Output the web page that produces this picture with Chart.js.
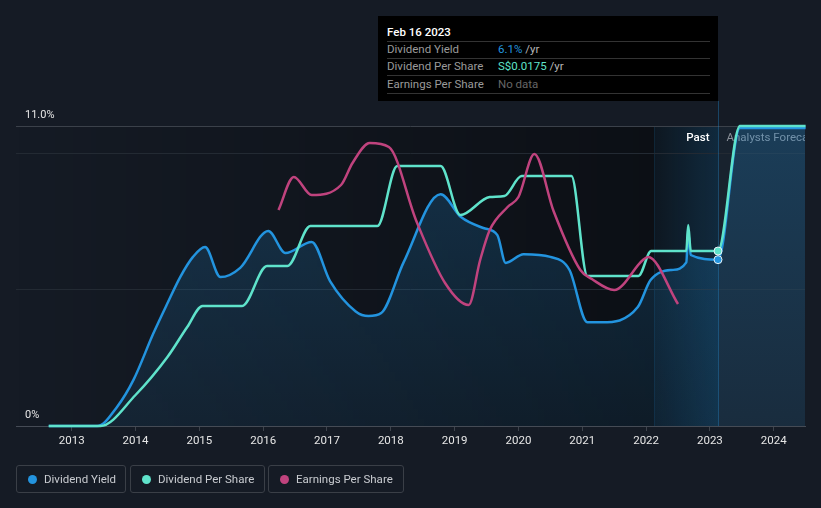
<!DOCTYPE html>
<html>
<head>
<meta charset="utf-8">
<script src="https://cdn.jsdelivr.net/npm/chart.js@4.4.1/dist/chart.umd.min.js"></script>
<style>
    html, body { margin: 0; padding: 0; background: #151b25; }
    body { width: 821px; height: 508px; position: relative; overflow: hidden; font-family: Roboto, "Noto Sans", sans-serif; }
    #chart { position: absolute; left: 0; top: 0; }
    .tip { position: absolute; left: 378px; top: 16px; width: 340px; height: 85px; background: #000; }
    .tip div { position: absolute; font-size: 11.5px; line-height: 14px; white-space: nowrap; }
    .tip .title { left: 9px; top: 9px; color: #fff; font-weight: 500; }
    .tip .sep { left: 9px; width: 323px; height: 1px; background: #333; }
    .tip .lbl { left: 9px; color: #9a9a9a; }
    .tip .val { left: 120px; color: #b8b8b8; }
    .legend-item { position: absolute; top: 465px; height: 26px; border: 1px solid #3a3f47; border-radius: 3px; box-sizing: content-box; }
    .legend-item .dot { position: absolute; left: 11px; top: 9px; width: 9px; height: 9px; border-radius: 50%; }
    .legend-item span { position: absolute; left: 27px; top: 6px; font-size: 11.5px; line-height: 14px; color: #c9ccd1; white-space: nowrap; }
</style>
</head>
<body>
<canvas id="chart" width="821" height="508"></canvas>

<div class="tip">
    <div class="title">Feb 16 2023</div>
    <div class="sep" style="top:25px"></div>
    <div class="lbl" style="top:26px">Dividend Yield</div>
    <div class="val" style="top:26px"><b style="font-weight:400;color:#2394df">6.1%</b> /yr</div>
    <div class="sep" style="top:42px"></div>
    <div class="lbl" style="top:43px">Dividend Per Share</div>
    <div class="val" style="top:43px"><b style="font-weight:400;color:#5fe3cb">S$0.0175</b> /yr</div>
    <div class="sep" style="top:59px"></div>
    <div class="lbl" style="top:61px">Earnings Per Share</div>
    <div class="val" style="top:61px;color:#666">No data</div>
    <div class="sep" style="top:77px"></div>
</div>

<div class="legend-item" style="left:16px;width:108px"><i class="dot" style="background:#2394df"></i><span>Dividend Yield</span></div>
<div class="legend-item" style="left:130px;width:133px"><i class="dot" style="background:#5fe3cb"></i><span>Dividend Per Share</span></div>
<div class="legend-item" style="left:268px;width:134px"><i class="dot" style="background:#c0437e"></i><span>Earnings Per Share</span></div>

<script>
"use strict";

const TODAY = 2023.127;          // Feb 16 2023
const PAST_BAND_START = 2022.124;
const yearTicks = [2013, 2014, 2015, 2016, 2017, 2018, 2019, 2020, 2021, 2022, 2023, 2024];

// dividend yield, % (left axis)
const yieldYears = [2012.64, 2013.40, 2013.71, 2013.97, 2014.28, 2014.50, 2014.70, 2014.90, 2015.09, 2015.33, 2015.64,
    2016.08, 2016.35, 2016.76, 2017.05, 2017.45, 2017.65, 2017.85, 2018.20, 2018.78, 2019.10,
    2019.45, 2019.67, 2019.80, 2020.08, 2020.50, 2020.80, 2021.08, 2021.30, 2021.87, 2022.07,
    2022.40, 2022.63, 2022.66, 2022.70, 2023.127, 2023.47, 2024.50];
const yieldValues = [0, 0, 0.7, 1.7, 3.4, 4.5, 5.46, 6.2, 6.56, 5.46, 5.8,
    7.15, 6.34, 6.75, 5.3, 4.2, 4.03, 4.14, 6.0, 8.5, 7.66,
    7.26, 7.0, 5.98, 6.3, 6.2, 5.72, 3.8, 3.8, 4.36, 5.35,
    5.72, 6.0, 7.1, 6.27, 6.1, 10.93, 10.93];

// dividend per share, S$
const dpsYears = [2012.64, 2013.45, 2014.00, 2014.50, 2014.81, 2015.05, 2015.67, 2016.06, 2016.38, 2016.74, 2017.79,
    2018.10, 2018.78, 2019.09, 2019.55, 2019.78, 2020.05, 2020.83, 2021.08, 2021.88, 2022.08,
    2022.63, 2022.66, 2022.70, 2023.127, 2023.47, 2024.50];
const dpsValues = [0, 0, 0.0031, 0.0069, 0.0099, 0.012, 0.012, 0.016, 0.016, 0.020, 0.020,
    0.026, 0.026, 0.0211, 0.0229, 0.023, 0.025, 0.025, 0.015, 0.015, 0.0175,
    0.0175, 0.0201, 0.0175, 0.0175, 0.030, 0.030];

// earnings per share, S$
const epsYears = [2016.24, 2016.48, 2016.76, 2017.22, 2017.40, 2017.67, 2017.97, 2018.40, 2018.85, 2019.22,
    2019.40, 2019.55, 2019.83, 2020.00, 2020.25, 2020.55, 2020.97, 2021.15, 2021.50, 2021.95,
    2022.03, 2022.50];
const epsValues = [0.0216, 0.0249, 0.0231, 0.0241, 0.0263, 0.0283, 0.0279, 0.0205, 0.0143, 0.0121,
    0.0166, 0.0196, 0.0219, 0.0229, 0.0272, 0.0215, 0.0156, 0.0147, 0.0136, 0.0166,
    0.0169, 0.0122];

const toPoints = (xs, ys) => xs.map((x, i) => ({ x, y: ys[i] }));
const markAtToday = xs => xs.map(x => x === TODAY ? 4 : 0);

Chart.defaults.font.family = "Roboto, 'Noto Sans', sans-serif";

const backdrop = {
    id: "backdrop",
    beforeDraw(chart) {
        const { ctx, chartArea: a, scales: { x } } = chart;
        const xBand = x.getPixelForValue(PAST_BAND_START);
        const xNow = x.getPixelForValue(TODAY);
        ctx.save();
        const shade = ctx.createLinearGradient(a.left, 0, xBand, 0);
        shade.addColorStop(0, "rgba(0,0,0,0)");
        shade.addColorStop(1, "rgba(0,0,0,0.42)");
        ctx.fillStyle = shade;
        ctx.fillRect(a.left, a.top, xBand - a.left, a.height);
        ctx.fillStyle = "rgba(0,0,0,0.42)";
        ctx.fillRect(xBand, a.top, xNow - xBand, a.height);
        const band = ctx.createLinearGradient(xBand, 0, xNow, 0);
        band.addColorStop(0, "rgba(35,148,223,0.06)");
        band.addColorStop(1, "rgba(35,148,223,0.2)");
        ctx.fillStyle = band;
        ctx.fillRect(xBand, a.top, xNow - xBand, a.height);
        ctx.fillStyle = "rgba(35,148,223,0.12)";
        ctx.fillRect(xBand, a.top, 1, a.height);
        ctx.fillStyle = "#18222e";
        ctx.fillRect(xNow, a.top, a.right - xNow, a.height);
        ctx.restore();
    },
    beforeDatasetsDraw(chart) {
        const { ctx, chartArea: a, scales: { x } } = chart;
        const xNow = Math.round(x.getPixelForValue(TODAY)) + 0.5;
        ctx.save();
        ctx.strokeStyle = "rgba(35,148,223,0.35)";
        ctx.lineWidth = 1;
        ctx.beginPath();
        ctx.moveTo(xNow, 101);
        ctx.lineTo(xNow, a.bottom);
        ctx.stroke();

        ctx.beginPath();
        ctx.rect(a.left, a.top, a.width, a.height);
        ctx.clip();
        ctx.font = "500 11.5px Roboto";
        ctx.textBaseline = "middle";
        ctx.textAlign = "right";
        ctx.fillStyle = "#ffffff";
        ctx.fillText("Past", xNow - 9, a.top + 12);
        ctx.textAlign = "left";
        ctx.fillStyle = "#8a9099";
        ctx.font = "11.5px Roboto";
        ctx.fillText("Analysts Forecast", xNow + 8, a.top + 12);
        ctx.restore();
    }
};

const yieldFill = context => {
    const { ctx, chartArea } = context.chart;
    if (!chartArea) return "rgba(35,148,223,0.15)";
    const g = ctx.createLinearGradient(0, chartArea.top, 0, chartArea.bottom);
    g.addColorStop(0, "rgba(35,148,223,0.24)");
    g.addColorStop(1, "rgba(35,148,223,0.09)");
    return g;
};

new Chart(document.getElementById("chart"), {
    type: "line",
    data: {
        datasets: [
            {
                label: "Earnings Per Share", yAxisID: "y2",
                data: toPoints(epsYears, epsValues),
                borderColor: "#c0437e", borderWidth: 2.5, pointRadius: 0, fill: false
            },
            {
                label: "Dividend Per Share", yAxisID: "y1",
                data: toPoints(dpsYears, dpsValues),
                borderColor: "#5fe3cb", borderWidth: 2.5, fill: false,
                pointRadius: markAtToday(dpsYears), pointBackgroundColor: "#5fe3cb",
                pointBorderColor: "#e8f4f8", pointBorderWidth: 1
            },
            {
                label: "Dividend Yield", yAxisID: "y",
                data: toPoints(yieldYears, yieldValues),
                borderColor: "#2394df", borderWidth: 2.5, fill: "origin", backgroundColor: yieldFill,
                pointRadius: markAtToday(yieldYears), pointBackgroundColor: "#2394df",
                pointBorderColor: "#e8f4f8", pointBorderWidth: 1
            }
        ]
    },
    options: {
        responsive: false,
        animation: false,
        clip: false,
        layout: { padding: { left: 16, right: 16, top: 126, bottom: 52 } },
        plugins: { legend: { display: false }, tooltip: { enabled: false } },
        datasets: { line: { cubicInterpolationMode: "monotone", clip: false } },
        scales: {
            x: {
                type: "linear", min: 2012.127, max: 2024.49,
                afterBuildTicks: scale => { scale.ticks = yearTicks.map(v => ({ value: v })); },
                afterFit: scale => { scale.height = 30; },
                grid: { drawOnChartArea: false, drawTicks: true, tickLength: 5, color: "#3d434c" },
                border: { color: "#454b55", width: 1 },
                ticks: { color: "#e6e6e6", font: { size: 11.5 }, padding: 3, maxRotation: 0, callback: v => String(v) }
            },
            y: {
                min: 0, max: 11,
                afterBuildTicks: scale => { scale.ticks = [0, 5, 10, 11].map(v => ({ value: v })); },
                afterFit: scale => { scale.width = 0; },
                border: { display: false },
                grid: {
                    drawTicks: false,
                    color: c => c.tick.value === 11 ? "#3b414a" : (c.tick.value === 0 ? "rgba(0,0,0,0)" : "#232a33")
                },
                ticks: {
                    mirror: true, padding: 9, labelOffset: -11, color: "#e6e6e6", font: { size: 11 },
                    callback: v => v === 0 ? "0%" : (v === 11 ? "11.0%" : "")
                }
            },
            y1: { display: false, min: 0, max: 0.03 },
            y2: { display: false, min: 0, max: 0.03 }
        }
    },
    plugins: [backdrop]
});
</script>
</body>
</html>
